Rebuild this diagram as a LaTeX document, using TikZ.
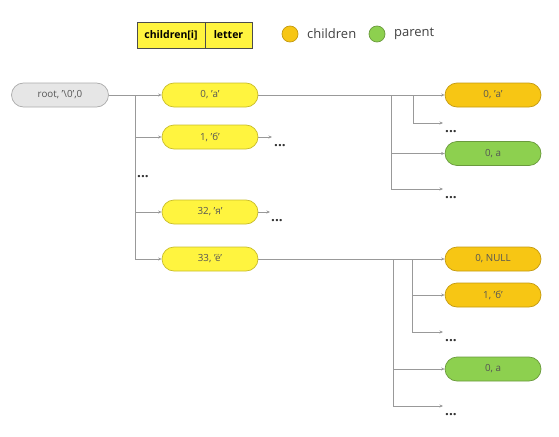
\documentclass[tikz,border=0pt]{standalone}
\usepackage{fontspec}
\setmainfont{Open Sans}
\usetikzlibrary{arrows.meta}
\definecolor{yelfill}{HTML}{FFF43F}
\definecolor{yeldraw}{HTML}{C9BD2A}
\definecolor{orfill}{HTML}{F7C614}
\definecolor{ordraw}{HTML}{C49A10}
\definecolor{grfill}{HTML}{8DD04F}
\definecolor{grdraw}{HTML}{6A9A3C}
\definecolor{rootfill}{HTML}{E6E6E6}
\definecolor{rootdraw}{HTML}{ABABAB}
\definecolor{linec}{HTML}{999999}
\definecolor{txt}{HTML}{555555}
\tikzset{
  pill/.style={rectangle, rounded corners=12pt, minimum width=96pt, minimum height=24pt,
    inner sep=0pt, line width=0.7pt, text=txt, font=\fontsize{9.8}{11}\selectfont},
  yel/.style={pill, fill=yelfill, draw=yeldraw},
  orn/.style={pill, fill=orfill, draw=ordraw},
  grn/.style={pill, fill=grfill, draw=grdraw},
  rootbox/.style={pill, fill=rootfill, draw=rootdraw, minimum width=97pt},
  wire/.style={draw=linec, line width=0.8pt},
  arr/.style={draw=linec, line width=0.7pt, -{Stealth[length=3.5pt,width=3pt]}},
  dotsn/.style={anchor=base west, inner sep=0pt, font=\fontsize{13.5}{14}\selectfont\bfseries, text=black!80},
  legcell/.style={rectangle, draw=black!70, fill=yelfill, line width=0.8pt, minimum height=26pt,
    inner sep=0pt, font=\fontsize{10.5}{12}\selectfont\bfseries},
  legdot/.style={circle, minimum size=16pt, inner sep=0pt, line width=0.7pt},
  legtxt/.style={anchor=west, inner sep=0pt, text=black!75, font=\fontsize{13}{14}\selectfont},
}
\begin{document}
\begin{tikzpicture}[x=1pt,y=-1pt]
\useasboundingbox (0,0) rectangle (559,436);
% legend
\node[legcell, minimum width=68pt] (lg1) at (171,35) {children[i]};
\node[legcell, minimum width=47pt] (lg2) at (228.5,35) {letter};
\node[legdot, fill=orfill, draw=ordraw] (ldc) at (290,34) {};
\node[legtxt] (ltc) at (307,34) {children};
\node[legdot, fill=grfill, draw=grdraw] (ldp) at (377,34) {};
\node[legtxt] (ltp) at (394,34) {parent};
% nodes
\node[rootbox] (root) at (60,95) {root, '\textbackslash0',0};
\node[yel] (a) at (210,95) {0, 'а'};
\node[yel] (b) at (210,137) {1, 'б'};
\node[yel] (ya) at (210,212) {32, 'я'};
\node[yel] (yo) at (210,259) {33, 'ё'};
\node[orn] (aa) at (493,95) {0, 'а'};
\node[grn] (ap) at (493,153.5) {0, a};
\node[orn] (on) at (493,259) {0, NULL};
\node[orn] (ob) at (493,295) {1, 'б'};
\node[grn] (op) at (493,369) {0, a};
% trunk
\coordinate (t0) at (135,95);
\coordinate (t3) at (135,259);
\draw[wire] (root.east) -- (t0) -- (t3);
\draw[arr] (t0) -- (a.west);
\draw[arr] (t0 |- b.west) -- (b.west);
\draw[arr] (t0 |- ya.west) -- (ya.west);
\draw[arr] (t3) -- (yo.west);
\node[dotsn] (d0) at (137,177) {...};
% dots after b and ya
\coordinate (eb) at (272,137);
\draw[arr] (b.east) -- (eb);
\node[dotsn] (db) at (274,146) {...};
\coordinate (eya) at (270,212);
\draw[arr] (ya.east) -- (eya);
\node[dotsn] (dya) at (271,221) {...};
% branch from a
\coordinate (ja1) at (391,95);
\coordinate (ja2) at (413,95);
\coordinate (ja2e) at (413,123);
\coordinate (ja1e) at (391,189);
\coordinate (ea1) at (443,123);
\coordinate (ea2) at (443,189);
\draw[wire] (a.east) -- (ja2);
\draw[arr] (ja2) -- (aa.west);
\draw[wire] (ja2) -- (ja2e);
\draw[arr] (ja2e) -- (ea1);
\draw[wire] (ja1) -- (ja1e);
\draw[arr] (ja1 |- ap.west) -- (ap.west);
\draw[arr] (ja1e) -- (ea2);
\node[dotsn] (da1) at (445,132) {...};
\node[dotsn] (da2) at (445,198) {...};
% branch from yo
\coordinate (jo1) at (393,259);
\coordinate (jo2) at (412,259);
\coordinate (jo2e) at (412,332);
\coordinate (jo1e) at (393,406);
\coordinate (eo1) at (443,332);
\coordinate (eo2) at (443,406);
\draw[wire] (yo.east) -- (jo2);
\draw[arr] (jo2) -- (on.west);
\draw[wire] (jo2) -- (jo2e);
\draw[arr] (jo2 |- ob.west) -- (ob.west);
\draw[arr] (jo2e) -- (eo1);
\draw[wire] (jo1) -- (jo1e);
\draw[arr] (jo1 |- op.west) -- (op.west);
\draw[arr] (jo1e) -- (eo2);
\node[dotsn] (do1) at (445,341) {...};
\node[dotsn] (do2) at (445,415) {...};
\end{tikzpicture}
\end{document}
